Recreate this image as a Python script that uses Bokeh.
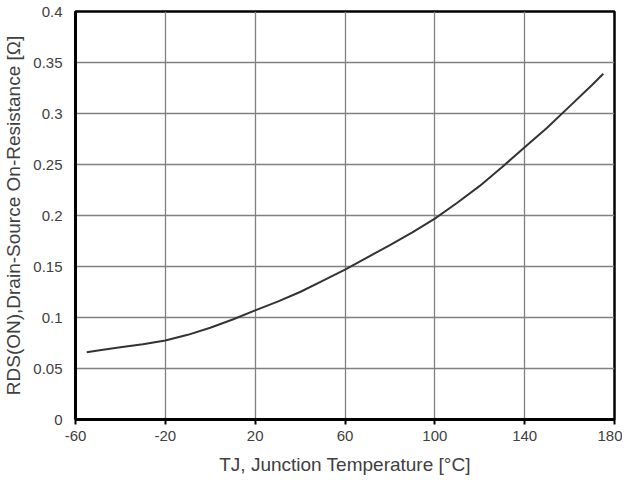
from bokeh.plotting import figure
from bokeh.models import FixedTicker, Range1d
from bokeh.embed import file_html
from bokeh.resources import INLINE

# Data
temperature_c = [-55, -50, -40, -30, -20, -10, 0, 10, 20, 30, 40, 50, 60, 70, 80, 90,
                 100, 110, 120, 130, 140, 150, 160, 170, 175]
rds_on_ohm = [0.066, 0.0676, 0.0708, 0.0738, 0.0775, 0.083, 0.090, 0.098, 0.107, 0.1155,
              0.125, 0.136, 0.147, 0.159, 0.171, 0.1835, 0.197, 0.2125, 0.229, 0.2475,
              0.267, 0.286, 0.307, 0.328, 0.339]

x_ticks = [-60, -20, 20, 60, 100, 140, 180]
y_ticks = [0, 0.05, 0.1, 0.15, 0.2, 0.25, 0.3, 0.35, 0.4]
y_tick_labels = ["0", "0.05", "0.1", "0.15", "0.2", "0.25", "0.3", "0.35", "0.4"]

FONT = "Liberation Sans"

p = figure(width=619, height=470, output_backend="svg", toolbar_location=None,
           x_range=Range1d(-60, 180), y_range=Range1d(0, 0.4),
           frame_width=539, frame_height=408,
           min_border_left=50, min_border_top=11, min_border_right=8, min_border_bottom=4)

p.line(temperature_c, rds_on_ohm, line_color="#333333", line_width=2, line_join="round")

p.xaxis.ticker = FixedTicker(ticks=x_ticks)
p.yaxis.ticker = FixedTicker(ticks=y_ticks)
p.yaxis.major_label_overrides = {t: l for t, l in zip(y_ticks, y_tick_labels)}
p.xaxis.major_label_overrides = {t: str(t) for t in x_ticks}

p.xaxis.axis_label = "TJ, Junction Temperature [°C]"
p.yaxis.axis_label = "RDS(ON),Drain-Source On-Resistance [Ω]"

for ax in (p.xaxis, p.yaxis):
    ax.axis_label_text_font = FONT
    ax.axis_label_text_font_style = "normal"
    ax.axis_label_text_font_size = "19px"
    ax.axis_label_text_color = "#404040"
    ax.major_label_text_font = FONT
    ax.major_label_text_font_size = "15px"
    ax.major_label_text_color = "#404040"
    ax.axis_line_color = "black"
    ax.axis_line_width = 3
    ax.minor_tick_line_color = None

p.xaxis.major_tick_line_color = "black"
p.xaxis.major_tick_line_width = 2
p.xaxis.major_tick_out = 5
p.xaxis.major_tick_in = 0
p.xaxis.major_label_standoff = 6
p.xaxis.axis_label_standoff = 10
p.yaxis.major_tick_line_color = None
p.yaxis.major_label_standoff = 7
p.yaxis.axis_label_standoff = 6

p.xgrid.grid_line_color = "#808080"
p.ygrid.grid_line_color = "#808080"
p.xgrid.grid_line_width = 1.3
p.ygrid.grid_line_width = 1.3

p.outline_line_color = "black"
p.outline_line_width = 2.5
p.outline_line_alpha = 1

open("out.html", "w").write(file_html(p, INLINE))
